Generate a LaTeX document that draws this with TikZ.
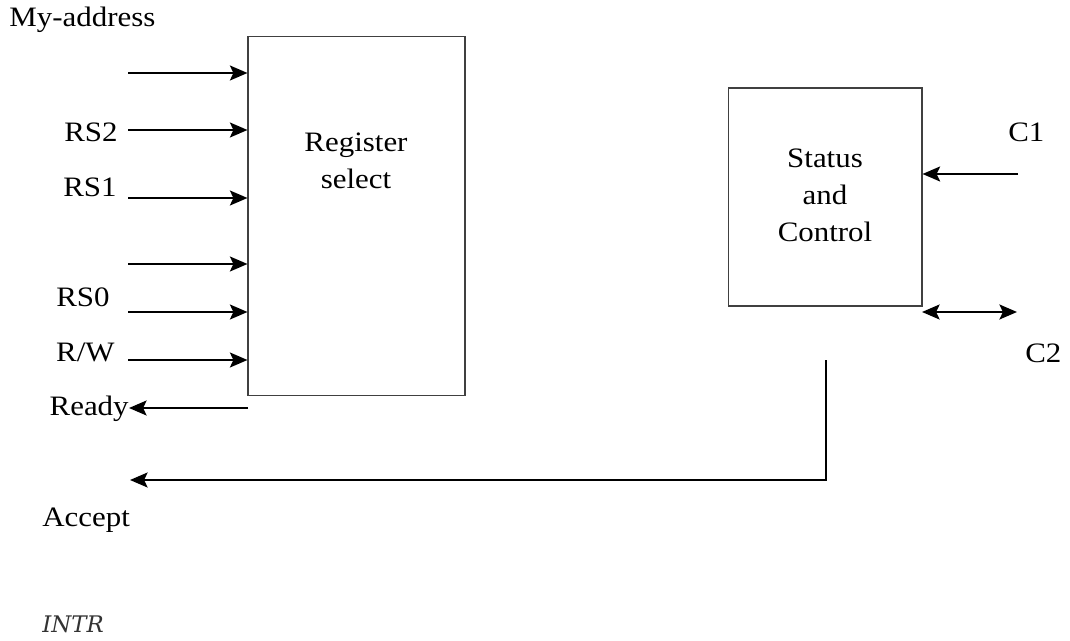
\documentclass[tikz,border=0pt]{standalone}
\usepackage{fontspec}
\setmainfont{Liberation Serif}[FakeStretch=1.1]
\newfontfamily\intrfont{DejaVu Serif}
\usetikzlibrary{arrows.meta,positioning}
\tikzset{
  block/.style={rectangle,draw=black!75,line width=0.6pt,inner sep=0pt},
  blocktext/.style={align=center,inner sep=0pt,
                    font=\fontsize{16}{21}\selectfont},
  sig/.style={-{Stealth[length=10pt,width=8.5pt,inset=2pt]},line width=1.3pt},
  bisig/.style={{Stealth[length=10pt,width=8.5pt,inset=2pt]}-{Stealth[length=10pt,width=8.5pt,inset=2pt]},
                line width=1.3pt},
  lbl/.style={inner sep=0pt,font=\fontsize{16}{19}\selectfont},
}

\begin{document}
\begin{tikzpicture}[x=0.02cm,y=-0.02cm]
  \useasboundingbox (0,0) rectangle (1070,641);

  % the two blocks
  \node[block,minimum width=4.34cm,minimum height=7.2cm] (reg) at (356.5,216) {};
  \node[blocktext] (regtext) at (356,161) {Register\\select};
  \node[block,minimum width=3.88cm,minimum height=4.36cm] (stat) at (825,197) {};
  \node[blocktext] (stattext) at (825,195) {Status\\and\\Control};

  % inputs of the register select block
  \foreach \y [count=\i] in {73,130,198,264,312,360}{
    \coordinate (in\i) at (128,\y);
    \draw[sig] (in\i) -- (in\i -| reg.west);
  }
  \node[lbl,anchor=base west] (myaddr) at (9,27) {My-address};
  \node[lbl,anchor=base east] (rs2) at (118,142) {RS2};
  \node[lbl,anchor=base east] (rs1) at (117,197) {RS1};
  \node[lbl,anchor=base east] (rs0) at (110,307) {RS0};
  \node[lbl,anchor=base east] (rw) at (115,361) {R/W};

  % ready output
  \coordinate (rdy) at (248,408);
  \node[lbl,anchor=base east] (ready) at (129,415) {Ready};
  \draw[sig] (rdy) -- (rdy -| ready.east);

  % accept line out of the control block
  \coordinate (acc) at (826,360);
  \coordinate (accend) at (130,480);
  \draw[sig] (acc) |- (accend);
  \node[lbl,anchor=base west] (accept) at (42,526) {Accept};
  \node[inner sep=0pt,anchor=base west,text=black!80,
        font=\intrfont\itshape\fontsize{13}{15}\selectfont] (intr) at (42,632) {INTR};

  % C1 and C2
  \coordinate (c1in) at (1018,174);
  \draw[sig] (c1in) -- (c1in -| stat.east);
  \node[lbl,anchor=base west] (c1) at (1008,142) {C1};
  \coordinate (c2a) at (922,312);
  \coordinate (c2b) at (1017,312);
  \draw[bisig] (c2a) -- (c2b);
  \node[lbl,anchor=base west] (c2) at (1025,362) {C2};
\end{tikzpicture}
\end{document}
